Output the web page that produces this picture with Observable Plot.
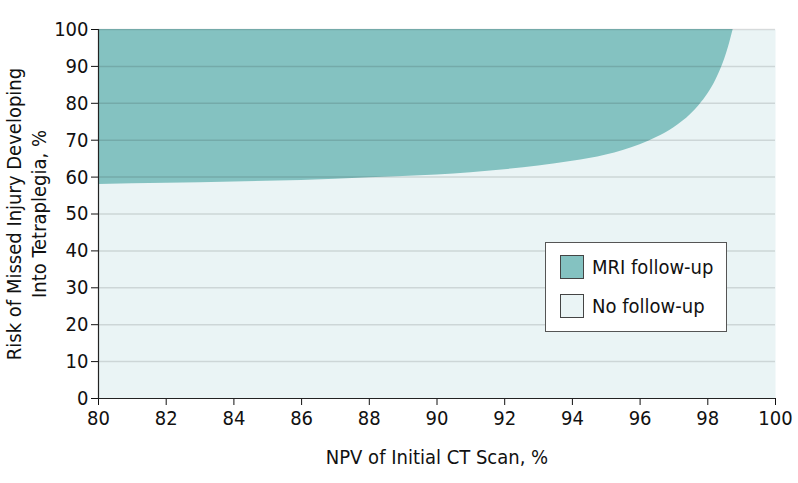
<!DOCTYPE html>
<html><head><meta charset="utf-8">
<script src="https://cdn.jsdelivr.net/npm/d3@7"></script>
<script src="https://cdn.jsdelivr.net/npm/@observablehq/plot@0.6"></script>
<style>
body{margin:0;background:#fff;}
#wrap{position:relative;width:798px;height:483px;font-family:"Liberation Sans Narrow","DejaVu Sans Condensed",sans-serif;}
#legend{position:absolute;left:545px;top:242px;width:182px;height:90px;background:#fff;border:1.5px solid #555;box-sizing:border-box;}
.item{position:absolute;left:14px;display:flex;align-items:center;font-size:20px;color:#111;}
.sw{width:24px;height:24px;box-sizing:border-box;border:1.2px solid #444;margin-right:8px;}
</style></head>
<body><div id="wrap"><div id="legend">
<div class="item" style="top:12px"><div class="sw" style="background:#84c2c1"></div>MRI follow-up</div>
<div class="item" style="top:51px"><div class="sw" style="background:#eaf4f5"></div>No follow-up</div>
</div></div>
<script>
const npv = [80, 82, 84, 86, 88, 90, 91, 92, 93, 94, 95, 96, 96.5, 97, 97.5, 97.75, 98, 98.25, 98.5, 98.65, 98.75];
const risk = [58.0, 58.3, 58.7, 59.1, 59.8, 60.6, 61.2, 62.0, 63.0, 64.3, 66.0, 68.8, 70.8, 73.4, 77.0, 79.5, 82.5, 86.5, 92.0, 96.5, 100];
const xTicks = [80, 82, 84, 86, 88, 90, 92, 94, 96, 98, 100];
const yTicks = [0, 10, 20, 30, 40, 50, 60, 70, 80, 90, 100];
const gridTicks = [10, 20, 30, 40, 50, 60, 70, 80, 90, 100];
const xLabel = "NPV of Initial CT Scan, %";
const yLabel = "Risk of Missed Injury Developing\nInto Tetraplegia, %";
const data = npv.map((x, i) => ({x, y: risk[i]}));
const chart = Plot.plot({
  width: 798, height: 483,
  marginLeft: 98, marginRight: 23, marginTop: 29, marginBottom: 85,
  style: {fontFamily: '"Liberation Sans Narrow","DejaVu Sans Condensed",sans-serif', fontSize: "20px", color: "#111", background: "#fff"},
  x: {domain: [80, 100], ticks: xTicks, label: null},
  y: {domain: [0, 100], ticks: yTicks, label: null},
  marks: [
    Plot.frame({fill: "#eaf4f5", stroke: null}),
    Plot.areaY(data, {x: "x", y1: "y", y2: 100, fill: "#84c2c1", curve: "monotone-x"}),
    Plot.ruleY(gridTicks, {stroke: "#000", strokeOpacity: 0.12, strokeWidth: 1.5}),
    Plot.axisX({ticks: xTicks, tickSize: 7, tickPadding: 5, fontSize: 20, label: null}),
    Plot.axisY({ticks: yTicks, tickSize: 7, tickPadding: 3, fontSize: 20, label: null}),
    Plot.ruleX([80], {stroke: "#222", strokeWidth: 1.2}),
    Plot.ruleY([0], {stroke: "#222", strokeWidth: 1.2}),
    Plot.text([xLabel], {frameAnchor: "bottom", dy: 65, fontSize: 20, fill: "#111"}),
    Plot.text([yLabel], {frameAnchor: "left", dx: -73, rotate: -90, textAnchor: "middle", lineAnchor: "middle", lineHeight: 1.25, fontSize: 20, fill: "#111"})
  ]
});
document.getElementById("wrap").prepend(chart);
chart.style.position = "absolute"; chart.style.left = "0"; chart.style.top = "0";
</script></body></html>
